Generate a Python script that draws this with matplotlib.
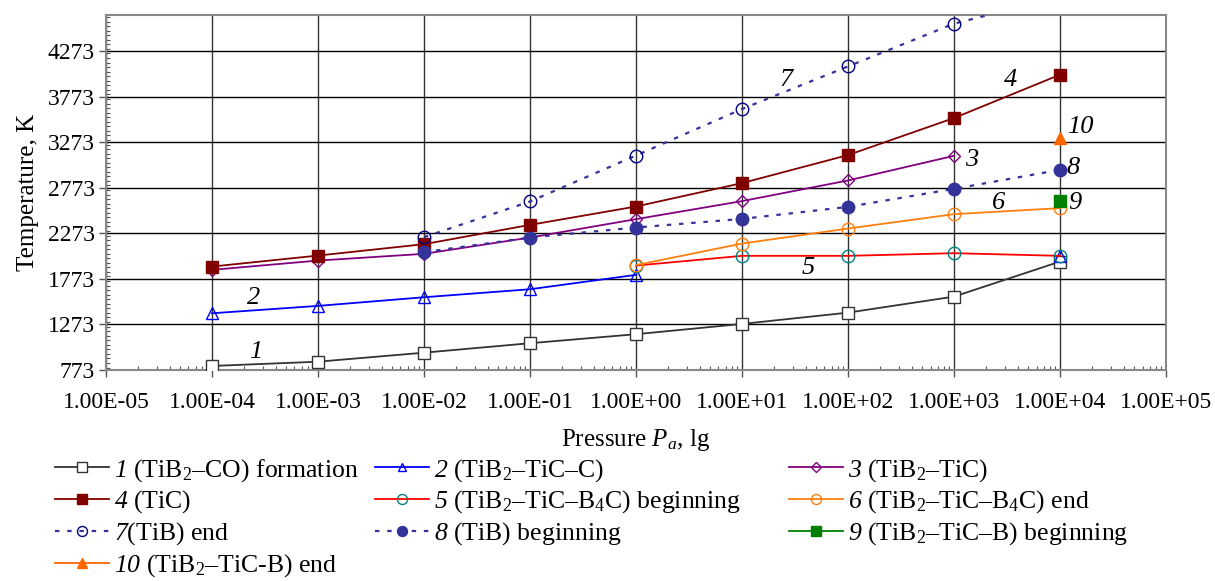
import numpy as np
import matplotlib
matplotlib.use('Agg')
import matplotlib.pyplot as plt
from matplotlib.ticker import FixedLocator, MultipleLocator, LogLocator, NullFormatter

plt.rcParams['font.family'] = ['Liberation Serif', 'DejaVu Serif']
plt.rcParams['mathtext.fontset'] = 'custom'
plt.rcParams['mathtext.rm'] = 'Liberation Serif'
plt.rcParams['mathtext.it'] = 'Liberation Serif:italic'
# digits are forced upright in \mathit, so the curve numbers go through \mathsf
plt.rcParams['mathtext.sf'] = 'Liberation Serif:italic'

# Data (pressure decades, temperature in K)
pressure = 10.0 ** np.arange(-4, 5)
nan = np.nan
t1_tib2_co = [817, 864, 963, 1067, 1166, 1279, 1403, 1579, 1964]
t2_tib2_tic_c = [1396, 1477, 1572, 1660, 1818, nan, nan, nan, 2027]
t3_tib2_tic = [1873, 1975, 2049, 2228, 2430, 2628, 2855, 3126, nan]
t4_tic = [1909, 2030, 2155, 2367, 2569, 2826, 3134, 3541, 4017]
t5_b4c_begin = [nan, nan, nan, nan, 1920, 2027, 2027, 2056, 2027]
t6_b4c_end = [nan, nan, nan, nan, 1925, 2162, 2327, 2485, 2551]
t7_tib_end = [nan, nan, 2232, 2624, 3129, 3640, 4108, 4578, 4870]
t8_tib_begin = [nan, nan, 2067, 2228, 2338, 2433, 2565, 2763, 2972]
t9_b_begin = [nan, nan, nan, nan, nan, nan, nan, nan, 2624]
t10_b_end = [nan, nan, nan, nan, nan, nan, nan, nan, 3327]

x_ticks = 10.0 ** np.arange(-5, 6)
x_tick_labels = ['1.00E-05', '1.00E-04', '1.00E-03', '1.00E-02', '1.00E-01', '1.00E+00',
                 '1.00E+01', '1.00E+02', '1.00E+03', '1.00E+04', '1.00E+05']
y_ticks = [773, 1273, 1773, 2273, 2773, 3273, 3773, 4273]

fig = plt.figure(figsize=(12.15, 5.81), dpi=100)
ax = fig.add_axes([0.0872, 0.3632, 0.8725, 0.611])

series = [
    (t1_tib2_co, dict(color='#333333', marker='s', mfc='white', mec='#333333', ms=9, ls='-'),
     r'$\mathsf{1}$ (TiB$_2$–CO) formation'),
    (t2_tib2_tic_c, dict(color='#0000ff', marker='^', mfc='none', mec='#0000ff', ms=8, ls='-'),
     r'$\mathsf{2}$ (TiB$_2$–TiC–C)'),
    (t3_tib2_tic, dict(color='#800080', marker='D', mfc='none', mec='#800080', ms=6, ls='-'),
     r'$\mathsf{3}$ (TiB$_2$–TiC)'),
    (t4_tic, dict(color='#800000', marker='s', mfc='#800000', mec='#800000', ms=9, ls='-'),
     r'$\mathsf{4}$ (TiC)'),
    (t5_b4c_begin, dict(color='#ff0000', marker='o', mfc='none', mec='#008080', ms=9, ls='-'),
     r'$\mathsf{5}$ (TiB$_2$–TiC–B$_4$C) beginning'),
    (t6_b4c_end, dict(color='#ff7f0e', marker='o', mfc='none', mec='#ff7f0e', ms=9, ls='-'),
     r'$\mathsf{6}$ (TiB$_2$–TiC–B$_4$C) end'),
    (t7_tib_end, dict(color='#333399', marker='o', mfc='none', mec='#000080', ms=9, ls=(0, (2, 3.5)), lw=1.6),
     r'$\mathsf{7}$(TiB) end'),
    (t8_tib_begin, dict(color='#333399', marker='o', mfc='#333399', mec='#333399', ms=9, ls=(0, (2, 3.5)), lw=1.6),
     r'$\mathsf{8}$ (TiB) beginning'),
    (t9_b_begin, dict(color='#008000', marker='s', mfc='#008000', mec='#008000', ms=9, ls='-'),
     r'$\mathsf{9}$ (TiB$_2$–TiC–B) beginning'),
    (t10_b_end, dict(color='#ff6600', marker='^', mfc='#ff6600', mec='#ff6600', ms=9, ls='-'),
     r'$\mathsf{10}$ (TiB$_2$–TiC-B) end'),
]

handles = []
for i, (vals, style, label) in enumerate(series):
    st = dict(lw=1.3)
    st.update(style)
    h, = ax.plot(pressure, vals, label=label, zorder=3 + i, **st)
    handles.append(h)

ax.set_xscale('log')
ax.set_xlim(1e-5, 1e5)
ax.set_ylim(773, 4673)
ax.xaxis.set_major_locator(FixedLocator(x_ticks))
ax.set_xticklabels(x_tick_labels)
ax.xaxis.set_minor_locator(LogLocator(base=10, subs=np.arange(2, 10), numticks=20))
ax.xaxis.set_minor_formatter(NullFormatter())
ax.yaxis.set_major_locator(FixedLocator(y_ticks))
ax.yaxis.set_minor_locator(MultipleLocator(50))

ax.tick_params(which='major', direction='out', length=5, width=1, labelsize=17, color='#555555')
ax.tick_params(which='minor', direction='in', length=3, width=0.8, color='#555555')
ax.tick_params(axis='x', pad=11)
ax.tick_params(axis='y', pad=3)

ax.grid(True, which='major', axis='y', color='black', lw=1)
ax.grid(True, which='major', axis='x', color='#333333', lw=1)
for sp in ax.spines.values():
    sp.set_color('#888888')
    sp.set_linewidth(1.5)

ax.set_xlabel(r'Pressure $P_a$, lg', fontsize=18, labelpad=10)
ax.set_ylabel('Temperature, K', fontsize=18, labelpad=6)

# curve numbers
num_labels = [('1', -3.59, 971), ('2', -3.61, 1565), ('3', 3.17, 3082), ('4', 3.53, 3962),
              ('5', 1.62, 1895), ('6', 3.42, 2609), ('7', 1.42, 3962), ('8', 4.12, 2994),
              ('9', 4.14, 2609), ('10', 4.19, 3445)]
for txt, lx, ly in num_labels:
    ax.text(10 ** lx, ly, txt, fontsize=19, style='italic', ha='center', va='center', zorder=20)

# legend: three separate columns, placed like the original
columns = [([0, 3, 6, 9], 0.0453), ([1, 4, 7], 0.3086), ([2, 5, 8], 0.6494)]
for idx, xpos in columns:
    fig.legend([handles[k] for k in idx], [series[k][2] for k in idx],
               loc='upper left', bbox_to_anchor=(xpos, 0.214), ncol=1, frameon=False,
               fontsize=18.5, handlelength=2.1, handletextpad=0.2,
               labelspacing=0.2, borderpad=0, borderaxespad=0, markerscale=0.8)

fig.savefig('out.png', dpi=100)
